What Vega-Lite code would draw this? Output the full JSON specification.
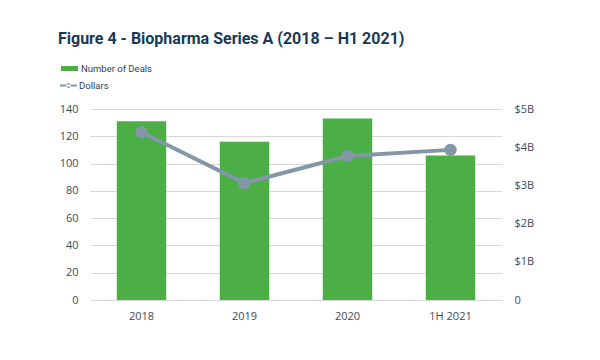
{
  "$schema": "https://vega.github.io/schema/vega-lite/v6.json",
  "autosize": "none",
  "width": 412,
  "height": 191,
  "padding": {"left": 90, "top": 109, "right": 98, "bottom": 60},
  "background": "white",
  "config": {"view": {"stroke": null}, "font": "Open Sans", "legend": {"padding": 0}},
  "title": {
    "text": "Figure 4 - Biopharma Series A (2018 – H1 2021)",
    "anchor": "start",
    "frame": "group",
    "dx": -32,
    "offset": 12,
    "font": "Roboto",
    "fontSize": 16,
    "fontWeight": "bold",
    "color": "#173a5a"
  },
  "data": {
    "values": [
      {"period": "2018", "deals": 131, "dollars": 4.39},
      {"period": "2019", "deals": 116, "dollars": 3.06},
      {"period": "2020", "deals": 133, "dollars": 3.77},
      {"period": "1H 2021", "deals": 106, "dollars": 3.93}
    ]
  },
  "encoding": {
    "x": {
      "field": "period",
      "type": "nominal",
      "sort": null,
      "scale": {"paddingInner": 0.52, "paddingOuter": 0.26},
      "axis": {
        "title": null,
        "labelAngle": 0,
        "labelFontSize": 11,
        "labelColor": "#3d4b59",
        "labelPadding": 10,
        "domainColor": "#d9d9d9",
        "ticks": false
      }
    }
  },
  "layer": [
    {
      "mark": {"type": "bar", "color": "#4caf46"},
      "encoding": {
        "y": {
          "field": "deals",
          "type": "quantitative",
          "scale": {"domain": [0, 140]},
          "axis": {
            "title": null,
            "values": [0, 20, 40, 60, 80, 100, 120, 140],
            "gridColor": "#d9d9d9",
            "domain": false,
            "ticks": false,
            "labelPadding": 12,
            "labelFontSize": 11,
            "labelColor": "#3d4b59"
          }
        },
        "fill": {
          "datum": "Number of Deals",
          "scale": {"range": ["#4caf46"]},
          "legend": {
            "title": null,
            "orient": "none",
            "legendX": -30,
            "legendY": -50,
            "symbolType": "M-1,-0.3H1V0.3H-1Z",
            "symbolSize": 289,
            "labelFontSize": 9.5,
            "labelColor": "#2f3f4f",
            "labelFont": "Roboto",
            "labelOffset": 2
          }
        }
      }
    },
    {
      "mark": {
        "type": "line",
        "color": "#8397a9",
        "strokeWidth": 4,
        "point": {"filled": true, "size": 120, "fill": "#8397a9", "stroke": "white", "strokeWidth": 1.5}
      },
      "encoding": {
        "y": {
          "field": "dollars",
          "type": "quantitative",
          "scale": {"domain": [0, 5]},
          "axis": {
            "title": null,
            "orient": "right",
            "values": [0, 1, 2, 3, 4, 5],
            "labelExpr": "datum.value == 0 ? '0' : '$' + datum.value + 'B'",
            "grid": false,
            "domain": false,
            "ticks": false,
            "labelPadding": 12,
            "labelFontSize": 11,
            "labelColor": "#3d4b59"
          }
        },
        "stroke": {
          "datum": "Dollars",
          "scale": {"range": ["#8397a9"]},
          "legend": {
            "title": null,
            "orient": "none",
            "legendX": -30,
            "legendY": -32,
            "symbolType": "M-1,-0.12H1V0.12H-1Z M-0.28,0A0.28,0.28 0 1,0 0.28,0A0.28,0.28 0 1,0 -0.28,0Z",
            "symbolFillColor": "#8397a9",
            "symbolStrokeColor": "#8397a9",
            "symbolStrokeWidth": 0,
            "symbolSize": 289,
            "labelFontSize": 9.5,
            "labelColor": "#2f3f4f",
            "labelFont": "Roboto",
            "labelOffset": 2
          }
        }
      }
    }
  ],
  "resolve": {"scale": {"y": "independent", "fill": "independent", "stroke": "independent"}}
}
